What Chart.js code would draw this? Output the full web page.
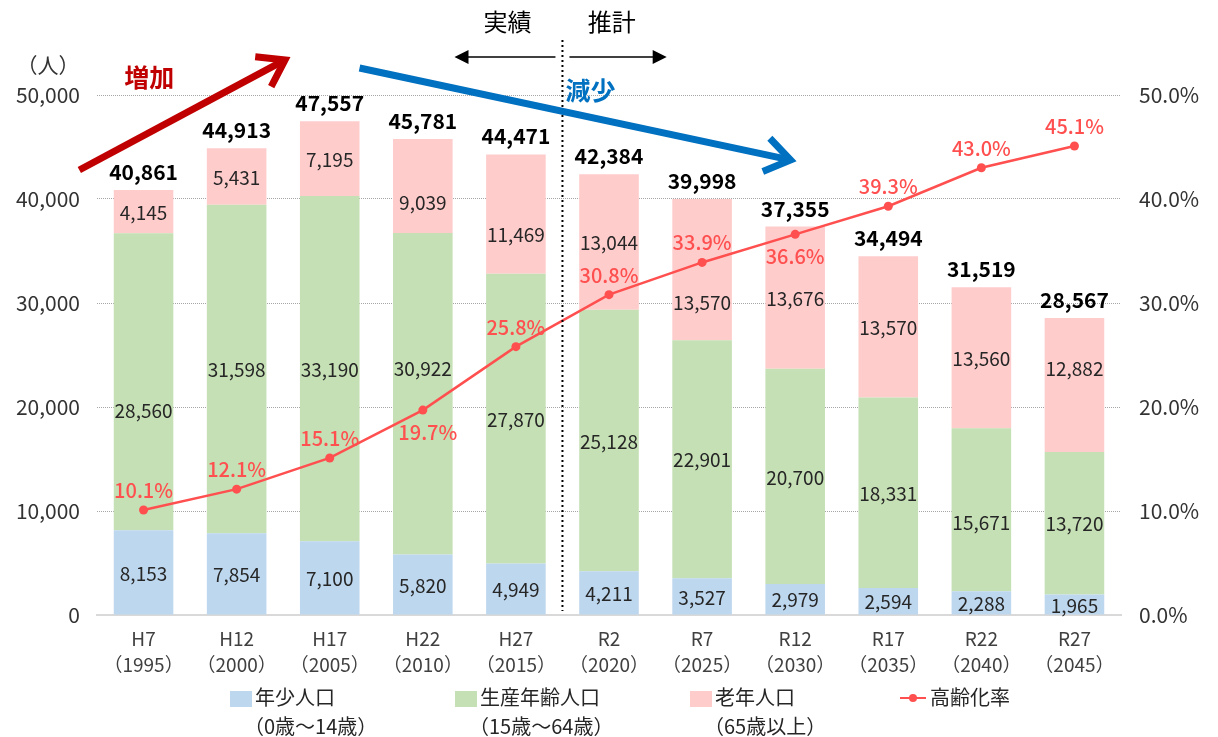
<!DOCTYPE html>
<html><head><meta charset="utf-8">
<script src="https://cdn.jsdelivr.net/npm/chart.js@4/dist/chart.umd.min.js"></script>
<style>
html,body{margin:0;padding:0;background:#fff;}
#wrap{position:relative;width:1218px;height:737px;overflow:hidden;}
#c{position:absolute;left:0;top:0;}
.lg{position:absolute;top:682px;font-family:'Noto Sans CJK JP','Noto Sans',sans-serif;font-size:20px;color:#262626;line-height:29px;white-space:nowrap;}
.lg .sw{display:inline-block;width:22px;height:16px;vertical-align:-2px;margin-right:3px;}
.lg .ln{display:inline-block;width:26px;height:14px;position:relative;vertical-align:0px;margin-right:4px;}
.lg .ln:before{content:"";position:absolute;left:0;right:0;top:6px;height:2px;background:#FF4F4F;}
.lg .ln:after{content:"";position:absolute;left:9px;top:3px;width:8px;height:8px;border-radius:50%;background:#FF4F4F;}
.lg .sub{display:inline-block;padding-left:14px;}
</style></head><body>
<div id="wrap"><canvas id="c" width="1218" height="737"></canvas><div id="legend"></div></div>
<script>
// ---- data ----
const categories = [["H7","（1995）"],["H12","（2000）"],["H17","（2005）"],["H22","（2010）"],["H27","（2015）"],["R2","（2020）"],["R7","（2025）"],["R12","（2030）"],["R17","（2035）"],["R22","（2040）"],["R27","（2045）"]];
const youngPop   = [8153, 7854, 7100, 5820, 4949, 4211, 3527, 2979, 2594, 2288, 1965];
const workingPop = [28560, 31598, 33190, 30922, 27870, 25128, 22901, 20700, 18331, 15671, 13720];
const elderlyPop = [4145, 5431, 7195, 9039, 11469, 13044, 13570, 13676, 13570, 13560, 12882];
const totalPop   = [40861, 44913, 47557, 45781, 44471, 42384, 39998, 37355, 34494, 31519, 28567];
const agingRate  = [10.1, 12.1, 15.1, 19.7, 25.8, 30.8, 33.9, 36.6, 39.3, 43.0, 45.1];
const seriesNames = ["年少人口", "生産年齢人口", "老年人口", "高齢化率"];
const seriesSubs  = ["（0歳～14歳）", "（15歳～64歳）", "（65歳以上）", ""];
const leftTicks  = [0, 10000, 20000, 30000, 40000, 50000];
const rightTicks = [0, 10, 20, 30, 40, 50];

const FONT = "'Noto Sans CJK JP','Noto Sans',sans-serif";
Chart.defaults.font.family = FONT;
const COLORS = ["#BDD7EE", "#C5E0B4", "#FFCCCC", "#FF4F4F"];
const fmt = v => v.toLocaleString('en-US');

// label nudges (px) for readability, like the original
const elderlyNudge = {3: 16, 4: 20, 6: 32, 10: -17};
const workingNudge = {0: 28, 3: -26, 9: 12};
const rateBelow = {3: true, 7: true};

const labelPlugin = {
  id: 'labels',
  afterDatasetsDraw(chart) {
    const ctx = chart.ctx;
    ctx.save();
    ctx.textAlign = 'center';
    [0,1,2].forEach(di => {
      const meta = chart.getDatasetMeta(di);
      const vals = chart.data.datasets[di].data;
      meta.data.forEach((el, j) => {
        let y = (el.y + el.base) / 2;
        if (di === 2 && elderlyNudge[j]) y += elderlyNudge[j];
        if (di === 1 && workingNudge[j]) y += workingNudge[j];
        ctx.font = "19px " + FONT;
        ctx.fillStyle = '#262626';
        ctx.textBaseline = 'middle';
        ctx.fillText(fmt(vals[j]), el.x, y + 1);
      });
    });
    const topMeta = chart.getDatasetMeta(2);
    topMeta.data.forEach((el, j) => {
      ctx.font = "bold 21px " + FONT;
      ctx.fillStyle = '#000';
      ctx.textBaseline = 'alphabetic';
      ctx.fillText(fmt(totalPop[j]), el.x, el.y - 10);
    });
    const lm = chart.getDatasetMeta(3);
    lm.data.forEach((el, j) => {
      ctx.font = "500 20px " + FONT;
      ctx.fillStyle = '#FF4F4F';
      if (rateBelow[j]) { ctx.textBaseline = 'top'; ctx.fillText(agingRate[j].toFixed(1) + '%', el.x + (j===3?5:0), el.y + 12); }
      else { ctx.textBaseline = 'alphabetic'; ctx.fillText(agingRate[j].toFixed(1) + '%', el.x, el.y - 12); }
    });
    ctx.restore();
  }
};

function chevronArrow(ctx, x1, y1, x2, y2, color, w, head) {
  const a = Math.atan2(y2 - y1, x2 - x1);
  ctx.save();
  ctx.strokeStyle = color; ctx.lineWidth = w; ctx.lineCap = 'butt'; ctx.lineJoin = 'miter';
  ctx.beginPath(); ctx.moveTo(x1, y1); ctx.lineTo(x2 - Math.cos(a) * w * 0.6, y2 - Math.sin(a) * w * 0.6); ctx.stroke();
  ctx.beginPath();
  ctx.moveTo(x2 - head * Math.cos(a - 0.6), y2 - head * Math.sin(a - 0.6));
  ctx.lineTo(x2, y2);
  ctx.lineTo(x2 - head * Math.cos(a + 0.6), y2 - head * Math.sin(a + 0.6));
  ctx.stroke();
  ctx.restore();
}
function triArrow(ctx, x1, y, x2, color) {
  const dir = Math.sign(x2 - x1);
  ctx.save();
  ctx.strokeStyle = color; ctx.fillStyle = color; ctx.lineWidth = 1.5;
  ctx.beginPath(); ctx.moveTo(x1, y); ctx.lineTo(x2 - dir * 12, y); ctx.stroke();
  ctx.beginPath(); ctx.moveTo(x2, y); ctx.lineTo(x2 - dir * 14, y - 7); ctx.lineTo(x2 - dir * 14, y + 7); ctx.closePath(); ctx.fill();
  ctx.restore();
}

const annotPlugin = {
  id: 'annot',
  afterDraw(chart) {
    const ctx = chart.ctx;
    const xs = chart.scales.x, ys = chart.scales.y;
    const step = xs.getPixelForValue(1) - xs.getPixelForValue(0);
    const px = i => xs.getPixelForValue(0) + i * step;
    const py = v => ys.getPixelForValue(v);
    ctx.save();
    const dx = px(4.5);
    ctx.strokeStyle = '#000'; ctx.lineWidth = 2; ctx.setLineDash([2, 3]);
    ctx.beginPath(); ctx.moveTo(dx, py(55300)); ctx.lineTo(dx, chart.chartArea.bottom - 4); ctx.stroke();
    ctx.setLineDash([]);
    ctx.font = "24px " + FONT; ctx.fillStyle = '#000'; ctx.textAlign = 'center'; ctx.textBaseline = 'middle';
    ctx.fillText('実績', px(3.91), py(57000));
    ctx.fillText('推計', px(5.03), py(57000));
    triArrow(ctx, dx - 7, py(53650), px(3.34), '#000');
    triArrow(ctx, dx + 7, py(53650), px(5.62), '#000');
    ctx.font = "21px " + FONT; ctx.fillStyle = '#333';
    ctx.fillText('（人）', 48, py(52880));
    chevronArrow(ctx, px(-0.69), py(42790), px(1.52), py(53370), '#C00000', 7, 30);
    chevronArrow(ctx, px(2.32), py(52600), px(6.95), py(43750), '#0070C0', 7, 30);
    ctx.font = "bold 25px " + FONT;
    ctx.fillStyle = '#C00000'; ctx.fillText('増加', px(0.06), py(51635));
    ctx.fillStyle = '#0070C0'; ctx.fillText('減少', px(4.8), py(50480));
    ctx.restore();
  }
};

const chart = new Chart(document.getElementById('c'), {
  data: {
    labels: categories,
    datasets: [
      { type: 'bar', label: seriesNames[0], data: youngPop, backgroundColor: COLORS[0], stack: 's', yAxisID: 'y', order: 1, barPercentage: 0.64, categoryPercentage: 1 },
      { type: 'bar', label: seriesNames[1], data: workingPop, backgroundColor: COLORS[1], stack: 's', yAxisID: 'y', order: 1, barPercentage: 0.64, categoryPercentage: 1 },
      { type: 'bar', label: seriesNames[2], data: elderlyPop, backgroundColor: COLORS[2], stack: 's', yAxisID: 'y', order: 1, barPercentage: 0.64, categoryPercentage: 1 },
      { type: 'line', label: seriesNames[3], data: agingRate, borderColor: COLORS[3], backgroundColor: COLORS[3], borderWidth: 2.5, pointRadius: 4.5, pointBackgroundColor: COLORS[3], pointBorderWidth: 0, yAxisID: 'y1', order: 0, tension: 0 }
    ]
  },
  options: {
    responsive: false, animation: false, devicePixelRatio: 1,
    layout: { padding: { top: 95, bottom: 52, left: 0, right: 0 } },
    plugins: { legend: { display: false }, tooltip: { enabled: false } },
    scales: {
      x: {
        stacked: true,
        grid: { display: false, drawTicks: false },
        border: { display: true, color: '#D9D9D9', width: 2 },
        ticks: { color: '#404040', font: { size: 19, family: FONT, lineHeight: 1.4 }, padding: 10, maxRotation: 0, autoSkip: false },
        afterFit(s) { s.height = 70; }
      },
      y: {
        stacked: true, position: 'left', min: 0, max: 50000,
        afterBuildTicks(s) { s.ticks = leftTicks.map(v => ({ value: v })); },
        ticks: { color: '#333', font: { size: 21, family: FONT }, padding: 17, callback: v => fmt(v) },
        grid: { drawTicks: false, color: ctx => ctx.tick && ctx.tick.value === 0 ? 'rgba(0,0,0,0)' : '#A6A6A6', lineWidth: 1 },
        border: { display: false, dash: [1, 1] },
        afterFit(s) { s.width = 97; }
      },
      y1: {
        position: 'right', min: 0, max: 50,
        afterBuildTicks(s) { s.ticks = rightTicks.map(v => ({ value: v })); },
        ticks: { color: '#333', font: { size: 21, family: FONT }, padding: 18, callback: v => v.toFixed(1) + '%' },
        grid: { display: false, drawTicks: false },
        border: { display: false },
        afterFit(s) { s.width = 97; }
      }
    }
  },
  plugins: [labelPlugin, annotPlugin]
});

const legendX = [230, 455, 690, 900];
const lg = document.getElementById('legend');
chart.data.datasets.forEach((ds, i) => {
  const d = document.createElement('div');
  d.className = 'lg';
  d.style.left = legendX[i] + 'px';
  const mark = ds.type === 'line' ? '<span class="ln"></span>' : '<span class="sw" style="background:' + ds.backgroundColor + '"></span>';
  d.innerHTML = mark + ds.label + (seriesSubs[i] ? '<br><span class="sub">' + seriesSubs[i] + '</span>' : '');
  lg.appendChild(d);
});
</script>
</body></html>
